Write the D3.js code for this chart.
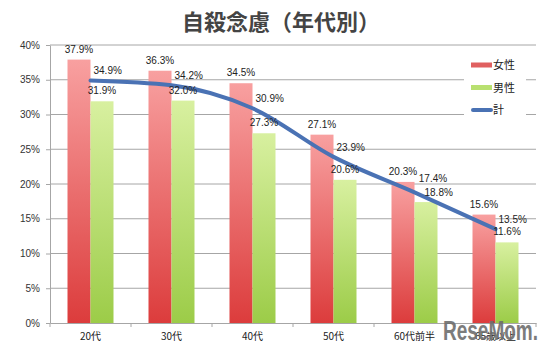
<!DOCTYPE html>
<html>
<head>
<meta charset="utf-8">
<script src="https://cdn.jsdelivr.net/npm/d3@7"></script>
<style>
  body { margin: 0; background: #fff; }
  text { font-family: "Liberation Sans", "Noto Sans CJK JP", sans-serif; }
</style>
</head>
<body>
<div id="chart"></div>
<script>
// data
const ages = ["20代", "30代", "40代", "50代", "60代前半", "65歳以上"];
const female = [37.9, 36.3, 34.5, 27.1, 20.3, 15.6];
const male = [31.9, 32.0, 27.3, 20.6, 17.4, 11.6];
const total = [34.9, 34.2, 30.9, 23.9, 18.8, 13.5];
const yTicks = [0, 5, 10, 15, 20, 25, 30, 35, 40];

const W = 552, H = 352;
const margin = {top: 45, right: 16, bottom: 29, left: 50},
  width = W - margin.left - margin.right,
  height = H - margin.top - margin.bottom;

const svg = d3.select("#chart").append("svg")
  .attr("width", W).attr("height", H);

const defs = svg.append("defs");
const gradRed = defs.append("linearGradient").attr("id", "gRed")
  .attr("x1", 0).attr("y1", 0).attr("x2", 0).attr("y2", 1);
gradRed.append("stop").attr("offset", "0%").attr("stop-color", "#f8a0a0");
gradRed.append("stop").attr("offset", "100%").attr("stop-color", "#dc3c3c");
const gradGreen = defs.append("linearGradient").attr("id", "gGreen")
  .attr("x1", 0).attr("y1", 0).attr("x2", 0).attr("y2", 1);
gradGreen.append("stop").attr("offset", "0%").attr("stop-color", "#d8f0a0");
gradGreen.append("stop").attr("offset", "100%").attr("stop-color", "#9ccc48");

// title
svg.append("text")
  .attr("x", 281).attr("y", 30)
  .attr("text-anchor", "middle")
  .style("font-family", "'Noto Sans CJK JP', sans-serif")
  .style("font-size", "22px").style("font-weight", "bold")
  .attr("fill", "#444")
  .text("自殺念慮（年代別）");

const g = svg.append("g").attr("transform", `translate(${margin.left},${margin.top})`);

const x = d3.scaleBand().domain(ages).range([0, width]);
const y = d3.scaleLinear().domain([0, 40]).range([height, 0]);
const barW = 23;

// gridlines
g.append("g").selectAll("line")
  .data(yTicks.slice(1))
  .join("line")
  .attr("x1", 0).attr("x2", width)
  .attr("y1", d => y(d)).attr("y2", d => y(d))
  .attr("stroke", "#a6a6a6").attr("stroke-width", 1);

// y axis
const yAxis = g.append("g")
  .call(d3.axisLeft(y).tickValues(yTicks).tickFormat(d => d + "%").tickSize(4).tickSizeOuter(0));
yAxis.select(".domain").attr("stroke", "#a6a6a6");
yAxis.selectAll(".tick line").attr("stroke", "#a6a6a6");
yAxis.selectAll("text").attr("fill", "#333").style("font-size", "10px").attr("x", -10);

// x axis
const xAxis = g.append("g").attr("transform", `translate(0,${height})`)
  .call(d3.axisBottom(x).tickSize(0).tickSizeOuter(0));
xAxis.select(".domain").attr("stroke", "#a6a6a6");
xAxis.selectAll("text").attr("fill", "#222").attr("dy", "1.4em")
  .style("font-family", "'Noto Sans CJK JP', sans-serif").style("font-size", "10px");
xAxis.selectAll(".bound")
  .data(d3.range(ages.length + 1))
  .join("line")
  .attr("x1", i => i * x.step()).attr("x2", i => i * x.step())
  .attr("y1", 0).attr("y2", 4)
  .attr("stroke", "#a6a6a6");

// bars
const cx = d => x(d) + x.bandwidth() / 2;
g.selectAll(".fbar").data(ages).join("rect")
  .attr("x", d => cx(d) - barW).attr("width", barW)
  .attr("y", (d, i) => y(female[i])).attr("height", (d, i) => height - y(female[i]))
  .attr("fill", "url(#gRed)");
g.selectAll(".mbar").data(ages).join("rect")
  .attr("x", d => cx(d)).attr("width", barW)
  .attr("y", (d, i) => y(male[i])).attr("height", (d, i) => height - y(male[i]))
  .attr("fill", "url(#gGreen)");

// total line
const line = d3.line()
  .x((d, i) => cx(ages[i]))
  .y(d => y(d))
  .curve(d3.curveMonotoneX);
g.append("path").datum(total)
  .attr("d", line)
  .attr("fill", "none")
  .attr("stroke", "#4a72b4")
  .attr("stroke-width", 4)
  .attr("stroke-linecap", "round");

// labels
const lbl = v => v.toFixed(1) + "%";
const labelStyle = sel => sel.style("font-size", "10px").attr("fill", "#222");

g.selectAll(".flab").data(ages).join("text")
  .attr("x", d => cx(d) - barW / 2)
  .attr("y", (d, i) => y(female[i]) - 7)
  .attr("text-anchor", "middle")
  .text((d, i) => lbl(female[i]))
  .call(labelStyle);

// small nudges for the crowded 60代前半 group
const maleNudge = (i) => i === 4 ? [7, -13] : [0, 0];
const totalNudge = (i) => i === 4 ? [10, 10] : [3, 0];

g.selectAll(".mlab").data(ages).join("text")
  .attr("x", (d, i) => cx(d) + barW / 2 + maleNudge(i)[0])
  .attr("y", (d, i) => y(male[i]) - 7 + maleNudge(i)[1])
  .attr("text-anchor", "middle")
  .text((d, i) => lbl(male[i]))
  .call(labelStyle);

g.selectAll(".tlab").data(ages).join("text")
  .attr("x", (d, i) => cx(d) + totalNudge(i)[0])
  .attr("y", (d, i) => y(total[i]) - 6 + totalNudge(i)[1])
  .attr("text-anchor", "start")
  .text((d, i) => lbl(total[i]))
  .call(labelStyle);

// legend
const leg = svg.append("g").attr("transform", "translate(464,52)");
leg.append("rect").attr("x", 0).attr("y", 0).attr("width", 62).attr("height", 66).attr("fill", "#fff");
const legItems = [
  {name: "女性", color: "#e06060", type: "bar"},
  {name: "男性", color: "#b8e070", type: "bar"},
  {name: "計", color: "#4a72b4", type: "line"}
];
legItems.forEach((it, i) => {
  const yy = 13 + i * 22.5;
  if (it.type === "bar") {
    leg.append("rect").attr("x", 7).attr("y", yy - 2.5).attr("width", 21).attr("height", 5).attr("fill", it.color);
  } else {
    leg.append("line").attr("x1", 9).attr("x2", 27).attr("y1", yy).attr("y2", yy)
      .attr("stroke", it.color).attr("stroke-width", 4).attr("stroke-linecap", "round");
  }
  leg.append("text").attr("x", 29).attr("y", yy + 4)
    .style("font-family", "'Noto Sans CJK JP', sans-serif").style("font-size", "11px")
    .attr("fill", "#222").text(it.name);
});

// watermark
svg.append("text")
  .attr("x", 443).attr("y", 340)
  .style("font-family", "'Liberation Sans Narrow', 'Liberation Sans', sans-serif")
  .style("font-size", "27px").style("font-weight", "bold")
  .attr("fill", "#6e6e6e").attr("opacity", 0.9)
  .attr("textLength", 95).attr("lengthAdjust", "spacingAndGlyphs")
  .text("ReseMom.");
</script>
</body>
</html>
